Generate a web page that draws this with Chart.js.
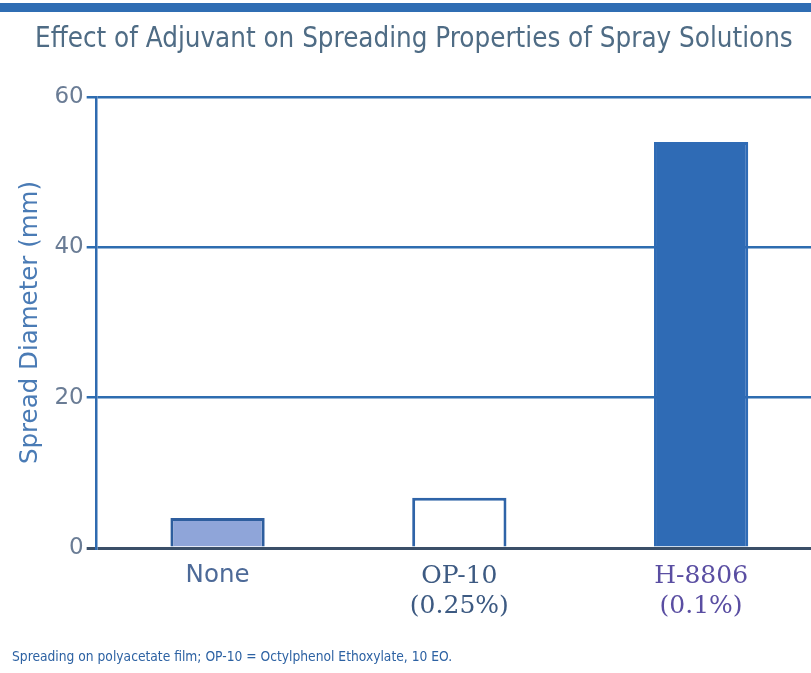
<!DOCTYPE html>
<html>
<head>
<meta charset="utf-8">
<script src="https://cdn.jsdelivr.net/npm/chart.js@4.4.1/dist/chart.umd.min.js"></script>
<style>
  html, body { margin: 0; padding: 0; background: #fff; overflow: hidden; }
  #wrap { position: relative; width: 811px; height: 673px; overflow: hidden; }
  #band { position: absolute; left: 0; top: 3px; width: 811px; height: 9px; background: #2f6db3; }
  #box { position: absolute; left: 0; top: 0; width: 822px; height: 673px; }
  #title { position: absolute; left: 35px; top: 21px; line-height: 32px; font-family: "DejaVu Sans Condensed", "DejaVu Sans", sans-serif;
           font-size: 27.5px; color: #4f6c85; white-space: nowrap; }
  #note { position: absolute; left: 12px; top: 648px; font-family: "DejaVu Sans Condensed", "DejaVu Sans", sans-serif;
          font-size: 13.7px; color: #2d62a3; white-space: nowrap; }
</style>
</head>
<body>
<div id="wrap">
  <div id="box"><canvas id="myChart"></canvas></div>
  <div id="band"></div>
  <div id="title">Effect of Adjuvant on Spreading Properties of Spray Solutions</div>
  <div id="note">Spreading on polyacetate film; OP-10 = Octylphenol Ethoxylate, 10 EO.</div>
</div>
<script>
const categories = [['None'], ['OP-10', '(0.25%)'], ['H-8806', '(0.1%)']];
const spreadDiameter = [4.0, 6.7, 54.0];
const yTicks = [0, 20, 40, 60];

const ctx = document.getElementById('myChart').getContext('2d');
const myChart = new Chart(ctx, {
    type: 'bar',
    data: {
        labels: categories,
        datasets: [{
            label: 'Spread Diameter (mm)',
            data: spreadDiameter,
            backgroundColor: ['#8fa5d9', '#ffffff', '#2f6bb5'],
            borderColor: ['#2e5e9e', '#2f64a8', '#2f6bb5'],
            borderWidth: 3,
            barPercentage: 0.39,
            categoryPercentage: 1
        }]
    },
    options: {
        responsive: true,
        maintainAspectRatio: false,
        animation: false,
        layout: { padding: { left: 16, right: 0, top: 97, bottom: 47 } },
        plugins: {
            legend: { display: false },
            tooltip: { enabled: false }
        },
        scales: {
            x: {
                grid: { display: false },
                border: { display: false },
                ticks: {
                    padding: 5,
                    color: (c) => ['#4d6a98', '#3d5a82', '#5a4ea2'][c.index],
                    font: (c) => c.index === 0
                        ? { family: '"DejaVu Sans", sans-serif', size: 24.5 }
                        : { family: '"DejaVu Serif", serif', size: 25 }
                }
            },
            y: {
                min: 0,
                max: 60,
                afterBuildTicks: (axis) => { axis.ticks = yTicks.map(v => ({ value: v })); },
                border: { display: true, color: '#2f6bb0', width: 2.5 },
                grid: {
                    color: (c) => c.tick && c.tick.value === 0 ? '#3b4f68' : '#2e6db0',
                    lineWidth: (c) => c.tick && c.tick.value === 0 ? 3 : 2.5,
                    tickLength: 10
                },
                ticks: {
                    padding: 3,
                    color: '#6a7c95',
                    font: { family: '"DejaVu Sans", sans-serif', size: 23 }
                },
                title: {
                    display: true,
                    text: 'Spread Diameter (mm)',
                    color: '#4a7bb5',
                    font: { family: '"DejaVu Sans", sans-serif', size: 24.5 },
                    padding: { top: 0, bottom: 6 }
                }
            }
        }
    }
});
</script>
</body>
</html>
